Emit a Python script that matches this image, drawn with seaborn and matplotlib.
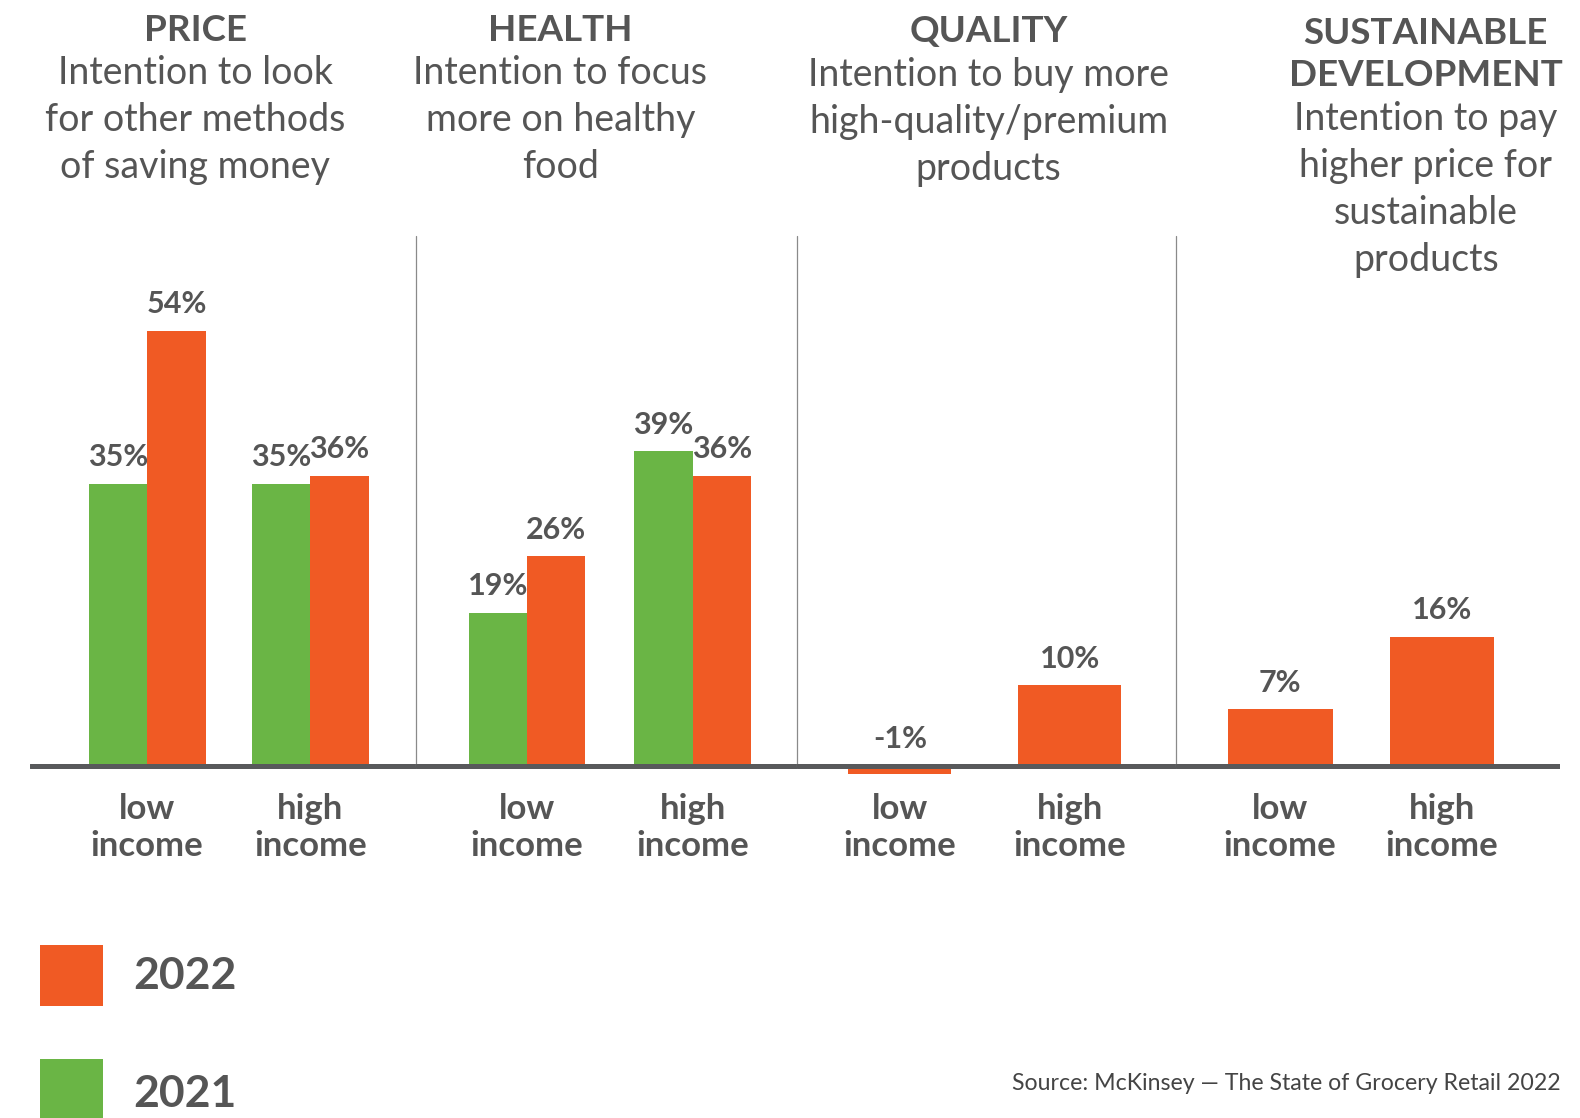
import matplotlib
matplotlib.use("Agg")
import matplotlib.pyplot as plt
from matplotlib.patches import Rectangle
import pandas as pd
import seaborn as sns

# ---- data -------------------------------------------------------------
panels = ["PRICE", "HEALTH", "QUALITY", "SUSTAINABLE\nDEVELOPMENT"]
subtitles = [
    "Intention to look\nfor other methods\nof saving money",
    "Intention to focus\nmore on healthy\nfood",
    "Intention to buy more\nhigh-quality/premium\nproducts",
    "Intention to pay\nhigher price for\nsustainable\nproducts",
]
income_groups = ["low\nincome", "high\nincome"]
years = ["2021", "2022"]
values_2021 = [[35, 35], [19, 39], None, None]
values_2022 = [[54, 36], [26, 36], [-1, 10], [7, 16]]
source_note = "Source: McKinsey \u2014 The State of Grocery Retail 2022"

ORANGE = "#F05A24"
GREEN = "#6AB545"
TEXT = "#555555"
palette = {"2021": GREEN, "2022": ORANGE}

sns.set_theme(style="white")
plt.rcParams["font.family"] = ["Lato", "DejaVu Sans"]

W, H = 1580, 1118
S = W / 1568.0  # layout below measured on a 1568-wide grid
fig = plt.figure(figsize=(W / 100, H / 100), dpi=100)

def fx(x):
    return x * S / W

def fy(y):
    return 1 - y * S / H

# panel layout: [left, right] edges, group centres, bar widths
edges = [(30, 413), (413, 791), (791, 1167), (1167, 1548)]
centres = [(146, 308), (523, 687.5), (893, 1061.5), (1270.5, 1431)]
bar_width = [0.716, 0.705, 0.605, 0.648]

base_y = 760.0       # zero line
px_per_pct = 8.0
y_lo, y_hi = -2.5, (base_y - 234) / px_per_pct

for i in range(4):
    l, r = edges[i]
    c0, c1 = centres[i]
    step = c1 - c0
    top = base_y - y_hi * px_per_pct
    bottom = base_y - y_lo * px_per_pct
    ax = fig.add_axes([fx(l), fy(bottom), fx(r) - fx(l), fy(top) - fy(bottom)])

    rows = []
    for y, vals in (("2021", values_2021[i]), ("2022", values_2022[i])):
        if vals is None:
            continue
        for g, v in zip(income_groups, vals):
            rows.append({"income": g, "year": y, "value": v})
    df = pd.DataFrame(rows)
    hue_order = [y for y in years if y in set(df["year"])]

    sns.barplot(data=df, x="income", y="value", hue="year", hue_order=hue_order,
                order=income_groups, palette=palette, width=bar_width[i],
                dodge=True, legend=False, ax=ax, saturation=1, linewidth=0)

    ax.set_xlim((l - c0) / step, 1 + (r - c1) / step)
    ax.set_ylim(y_lo, y_hi)

    # value labels above each bar
    for cont in ax.containers:
        for bar in cont:
            v = bar.get_height() if bar.get_y() >= 0 else bar.get_y()
            xc = bar.get_x() + bar.get_width() / 2
            ax.annotate(f"{v:.0f}%", (xc, max(v, 0)), xytext=(0, 19),
                        textcoords="offset points", ha="center", va="center",
                        fontsize=22, fontweight="bold", color=TEXT)

    ax.axhline(0, color="#58595B", lw=3.6, zorder=5)
    if i > 0:
        ax.axvline(ax.get_xlim()[0], ymin=(0 - y_lo) / (y_hi - y_lo), ymax=1,
                   color="#8a8a8a", lw=0.9, clip_on=False)

    ax.set_xlabel("")
    ax.set_ylabel("")
    ax.set_yticks([])
    ax.set_xticks([0, 1])
    ax.set_xticklabels(income_groups, fontsize=25, fontweight="bold",
                       color=TEXT, linespacing=1.2)
    ax.tick_params(axis="x", length=0, pad=5)
    for sp in ax.spines.values():
        sp.set_visible(False)
    ax.patch.set_alpha(0)

# headers
title_pos = [(194, 30), (556, 30), (981, 31), (1415, 54)]
sub_pos = [(194, 119), (556, 119), (981, 121), (1415, 188)]
for i in range(4):
    tx, ty = title_pos[i]
    fig.text(fx(tx), fy(ty), panels[i], ha="center", va="center", fontsize=26.5,
             fontweight="bold", color=TEXT, linespacing=1.35)
    sx, sy = sub_pos[i]
    fig.text(fx(sx), fy(sy), subtitles[i], ha="center", va="center", fontsize=27,
             fontweight="normal", color=TEXT, linespacing=1.38)

# legend
for (yr, col, ytop, ytxt) in (("2022", ORANGE, 938, 969), ("2021", GREEN, 1051, 1086)):
    fig.patches.append(Rectangle((fx(40), fy(ytop + 60)), fx(102) - fx(40),
                                 fy(ytop) - fy(ytop + 60), transform=fig.transFigure,
                                 facecolor=col, edgecolor="none"))
    fig.text(fx(132), fy(ytxt), yr, ha="left", va="center", fontsize=32,
             fontweight="bold", color=TEXT)

fig.text(fx(1004), fy(1075), source_note, ha="left", va="center", fontsize=16.7,
         fontweight="normal", color="#444444")

fig.savefig("out.png", dpi=100, facecolor="white")
